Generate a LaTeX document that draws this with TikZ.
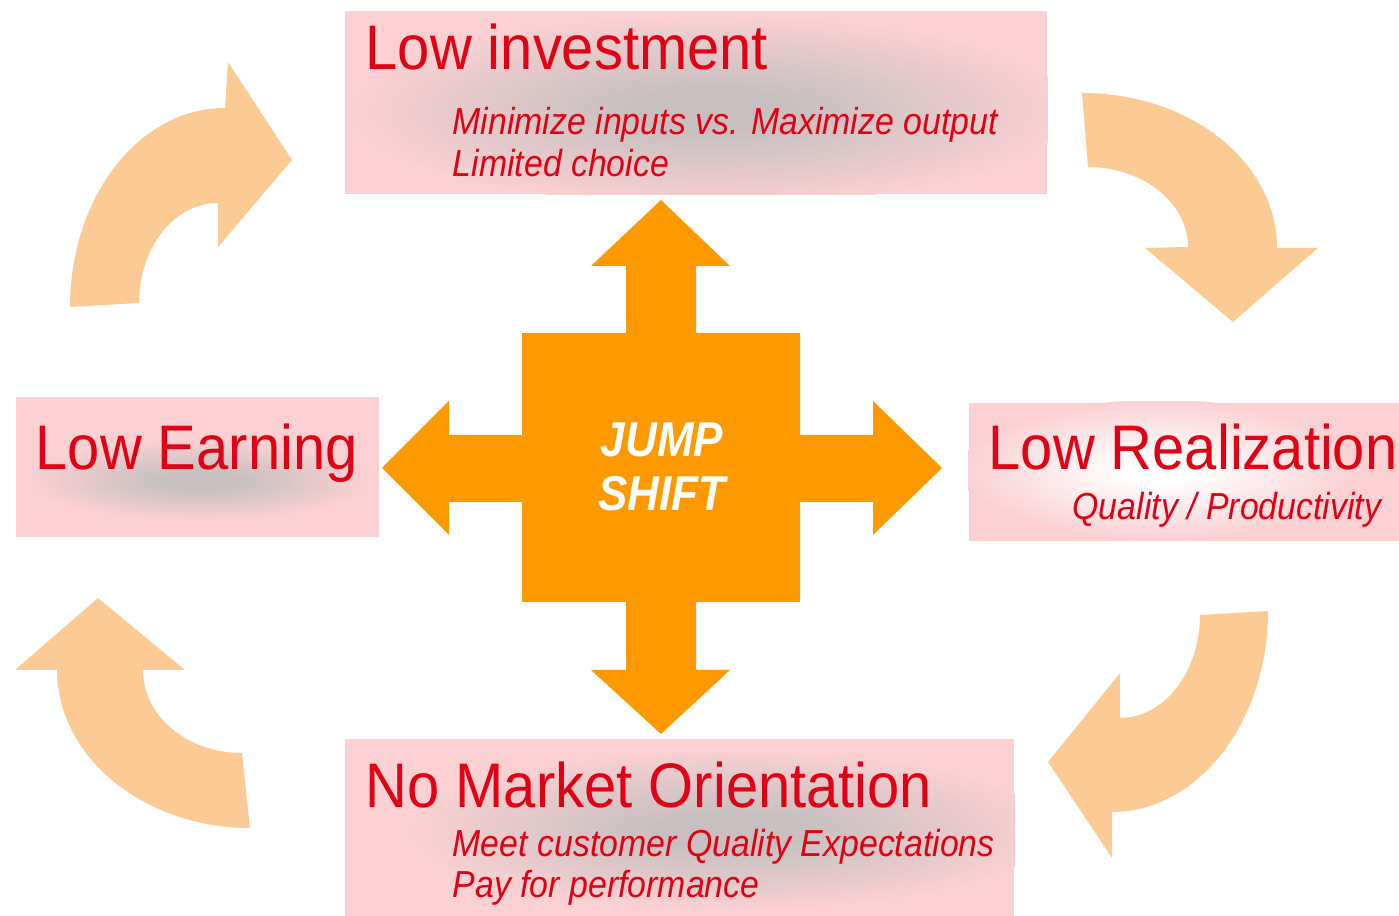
\documentclass[tikz,border=0pt]{standalone}
\usepackage{fontspec}
\setmainfont{Liberation Sans}
\newfontfamily\headfont{Liberation Sans}[FakeStretch=0.92]
\newfontfamily\notefont{Liberation Sans}[FakeStretch=0.9]
\usetikzlibrary{positioning}

\definecolor{boxpink}{RGB}{250,208,210}
\definecolor{blobgray}{RGB}{200,192,192}
\definecolor{textred}{RGB}{226,0,20}
\definecolor{crossorange}{RGB}{255,153,0}
\definecolor{turnorange}{RGB}{252,202,148}

\pgfdeclareradialshading{shadowblob}{\pgfpoint{0bp}{0bp}}{color(0bp)=(blobgray); color(6bp)=(blobgray); color(25bp)=(boxpink); color(50bp)=(boxpink)}
\pgfdeclareradialshading{glowblob}{\pgfpoint{0bp}{0bp}}{color(0bp)=(white); color(4bp)=(white); color(25bp)=(boxpink); color(50bp)=(boxpink)}

\tikzset{
  box/.style={fill=boxpink, draw=none, anchor=north west, inner sep=0pt},
  head/.style={text=textred, anchor=base west, inner sep=0pt, font=\headfont\fontsize{17.9pt}{20pt}\selectfont},
  note/.style={text=textred, anchor=base west, inner sep=0pt, font=\notefont\itshape\fontsize{10.7pt}{12pt}\selectfont},
  turn/.style={fill=turnorange, draw=none},
}

\begin{document}
\begin{tikzpicture}[x=0.01cm, y=-0.01cm]
\useasboundingbox (0,0) rectangle (1399,916);

        % Draw the boxes
        \node[box, minimum width=7.02cm, minimum height=1.83cm] at (344, 10)   (invest)  {};
        \node[box, minimum width=3.63cm, minimum height=1.40cm] at (15, 396)   (earning) {};
        \node[box, minimum width=4.31cm, minimum height=1.38cm] at (968, 402)  (realize) {};
        \node[box, minimum width=6.69cm, minimum height=1.78cm] at (344, 738)  (market)  {};

        % Soft shadows inside the boxes
\begin{scope}
\clip (invest.south west) rectangle (invest.north east);
\shade[shading=shadowblob] (710, 110) ellipse (3.6cm and 0.95cm);
\end{scope}
\begin{scope}
\clip (earning.south west) rectangle (earning.north east);
\shade[shading=shadowblob] (200, 480) ellipse (1.7cm and 0.4cm);
\end{scope}
\begin{scope}
\clip (realize.south west) rectangle (realize.north east);
\shade[shading=glowblob] (1160, 470) ellipse (2cm and 0.7cm);
\end{scope}
\begin{scope}
\clip (market.south west) rectangle (market.north east);
\shade[shading=shadowblob] (730, 830) ellipse (3.2cm and 0.8cm);
\end{scope}

        % Box texts
        \node[head] at (365, 70)   (investhead)  {Low investment};
        \node[note] at (452, 135)  (investnote1) {Minimize inputs vs. Maximize output};
        \node[note] at (452, 177)  (investnote2) {Limited choice};
        \node[head] at (35, 470)   (earninghead) {Low Earning};
        \node[head] at (988, 470)  (realizehead) {Low Realization};
        \node[note, anchor=base east] at (1382, 520) (realizenote) {Quality / Productivity};
        \node[head] at (365, 808)  (markethead)  {No Market Orientation};
        \node[note] at (452, 857)  (marketnote1) {Meet customer Quality Expectations};
        \node[note] at (452, 898)  (marketnote2) {Pay for performance};

        % Centre cross
\fill[crossorange] (522,333) -- (626,333) -- (626,266) -- (591,266) -- (661,200) -- (730,266) -- (696,266) -- (696,333)
  -- (800,333) -- (800,435) -- (873,435) -- (873,401) -- (942,468) -- (873,535) -- (873,502) -- (800,502)
  -- (800,602) -- (696,602) -- (696,670) -- (730,670) -- (661,734) -- (591,670) -- (626,670) -- (626,602)
  -- (522,602) -- (522,502) -- (449,502) -- (449,535) -- (382,468) -- (449,401) -- (449,435) -- (522,435) -- cycle;
        \node[text=white, align=center, inner sep=0pt, font=\notefont\bfseries\itshape\fontsize{13.9pt}{15.4pt}\selectfont] at (662, 467) (jump) {JUMP\\SHIFT};

        % Curved arrows round the cycle
\fill[turn] (70,307) -- (139,303) .. controls (139,248) and (174,203) .. (218,203) -- (218,247) -- (292,160)
  -- (228,62) -- (225,108) .. controls (139,108) and (70,197) .. (70,307) -- cycle;
\fill[turn] (1082,93) -- (1088,167) .. controls (1143,167) and (1188,203) .. (1188,247) -- (1145,248) -- (1233,322)
  -- (1318,248) -- (1277,248) .. controls (1277,162) and (1190,93) .. (1082,93) -- cycle;
\fill[turn] (1200,615) -- (1268,611) .. controls (1268,722) and (1198,812) .. (1112,812) -- (1112,858) -- (1048,762)
  -- (1120,673) -- (1120,718) .. controls (1164,718) and (1200,672) .. (1200,615) -- cycle;
\fill[turn] (57,670) -- (15,670) -- (98,598) -- (185,670) -- (143,670) .. controls (143,716) and (187,753) .. (242,753)
  -- (250,828) .. controls (144,828) and (57,757) .. (57,670) -- cycle;
\end{tikzpicture}
\end{document}
